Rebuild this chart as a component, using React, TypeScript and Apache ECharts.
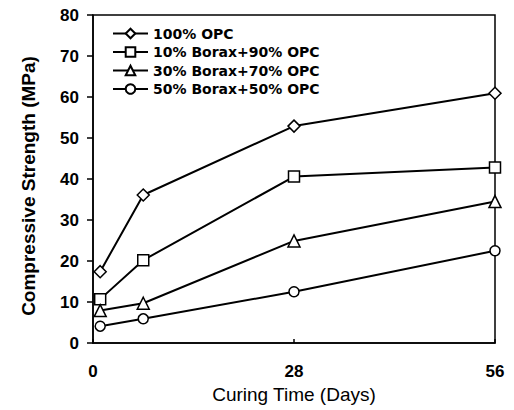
import React, { useEffect, useRef } from "react";
import * as echarts from "echarts";

const days = [1, 7, 28, 56];
const seriesNames = ["100% OPC", "10% Borax+90% OPC", "30% Borax+70% OPC", "50% Borax+50% OPC"];
const opc100 = [17.4, 36.1, 52.9, 60.9];
const borax10 = [10.7, 20.2, 40.6, 42.8];
const borax30 = [7.9, 9.7, 24.9, 34.5];
const borax50 = [4.1, 5.9, 12.5, 22.5];
const xTicks = [0, 28, 56];
const symbols = ["diamond", "rect", "triangle", "circle"];
const symbolSizes = [12, 11, 12, 10];

export default function App() {
  const ref = useRef<HTMLDivElement>(null);
  useEffect(() => {
    if (!ref.current) return;
    const chart = echarts.init(ref.current, null, { renderer: "svg" });
    const all = [opc100, borax10, borax30, borax50];
    chart.setOption({
      animation: false,
      backgroundColor: "#fff",
      grid: {
        left: 93,
        right: 19,
        top: 15,
        bottom: 67,
        show: true,
        borderColor: "#000",
        borderWidth: 1.5,
        backgroundColor: "transparent",
      },
      legend: {
        left: 107,
        top: 21,
        orient: "vertical",
        itemWidth: 35,
        itemHeight: 12,
        itemGap: 3.5,
        data: seriesNames,
        textStyle: {
          fontFamily: "DejaVu Sans",
          fontWeight: "bold",
          fontSize: 14,
          color: "#000",
          lineHeight: 15,
        },
      },
      xAxis: {
        type: "value",
        min: 0,
        max: 56,
        interval: 28,
        name: "Curing Time (Days)",
        nameLocation: "middle",
        nameGap: 50,
        nameTextStyle: {
          fontFamily: "Liberation Sans",
          fontSize: 19,
          color: "#000",
          verticalAlign: "middle",
        },
        axisLine: { lineStyle: { color: "#000", width: 1.5 } },
        axisTick: { inside: true, length: 4, lineStyle: { color: "#000", width: 1.5 } },
        axisLabel: {
          margin: 20,
          fontFamily: "Liberation Sans",
          fontWeight: "bold",
          fontSize: 17,
          color: "#000",
          formatter: (v: number) => (xTicks.includes(v) ? String(v) : ""),
        },
        splitLine: { show: false },
      },
      yAxis: {
        type: "value",
        min: 0,
        max: 80,
        interval: 10,
        name: "Compressive Strength (MPa)",
        nameLocation: "middle",
        nameGap: 65,
        nameTextStyle: {
          fontFamily: "Liberation Sans",
          fontWeight: "bold",
          fontSize: 19,
          color: "#000",
          verticalAlign: "middle",
          padding: [0, 14, 0, 0],
        },
        axisLine: { lineStyle: { color: "#000", width: 1.5 } },
        axisTick: { length: 6, lineStyle: { color: "#000", width: 1.5 } },
        axisLabel: {
          margin: 14,
          fontFamily: "Liberation Sans",
          fontWeight: "bold",
          fontSize: 17,
          color: "#000",
        },
        splitLine: { show: false },
      },
      series: seriesNames.map((name, i) => ({
        name,
        type: "line",
        data: days.map((d, j) => [d, all[i][j]]),
        symbol: symbols[i],
        symbolSize: symbolSizes[i],
        showAllSymbol: true,
        lineStyle: { color: "#000", width: 2 },
        itemStyle: { color: "#fff", borderColor: "#000", borderWidth: 1.5 },
        z: 3,
      })),
    });
    return () => chart.dispose();
  }, []);
  return (
    <div
      ref={ref}
      style={{ position: "absolute", left: 0, top: 0, width: 514, height: 410 }}
    />
  );
}
